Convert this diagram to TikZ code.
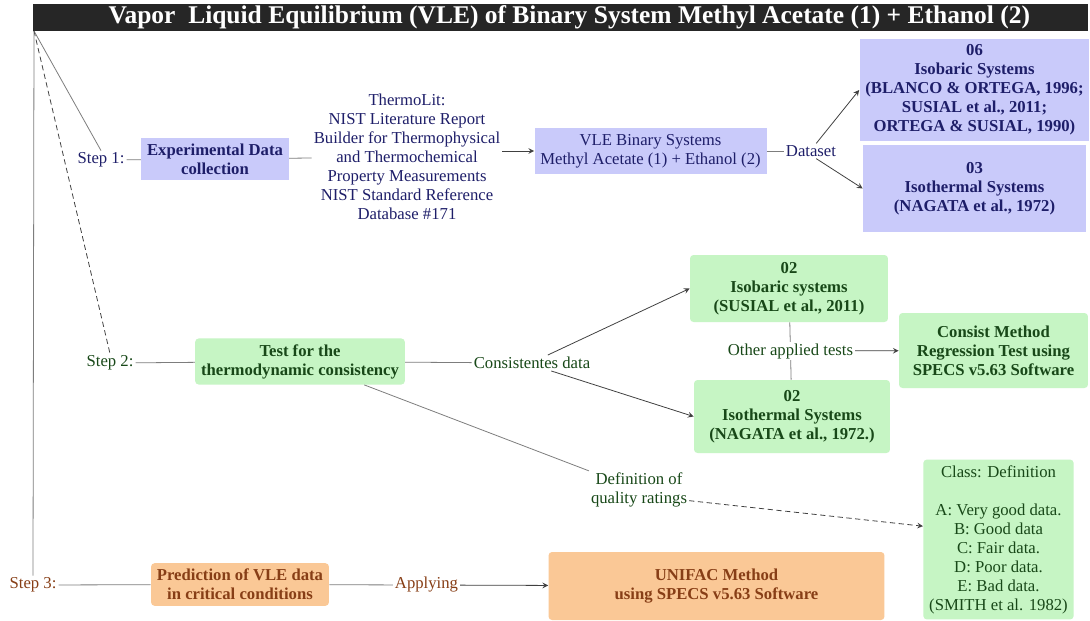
\documentclass[tikz,border=0pt]{standalone}
\usepackage{fontspec}
\setmainfont{Liberation Serif}
\usetikzlibrary{positioning}

\definecolor{vleblue}{RGB}{201,202,250}
\definecolor{vlenavy}{RGB}{30,30,105}
\definecolor{vlegreen}{RGB}{198,245,196}
\definecolor{vledkgreen}{RGB}{24,72,24}
\definecolor{vleorange}{RGB}{250,200,150}
\definecolor{vlebrown}{RGB}{135,62,22}
\definecolor{vlegray}{RGB}{125,125,125}
\definecolor{vletitle}{RGB}{38,38,38}

\begin{document}
\begin{tikzpicture}
[x=0.02cm,y=-0.02cm,
every node/.style={font=\fontsize{9.5}{10.8}\selectfont,align=center},
  link/.style = {draw=vlegray,line width=0.45pt},
  linkarrow/.style = {-stealth,draw=black!75,line width=0.45pt},
  dotlink/.style = {densely dashed,draw=black!75,line width=0.45pt},
  lbl/.style = {inner sep=1pt},
  bfont/.style = {font=\fontsize{9.5}{10.8}\selectfont\bfseries},
  bluebox/.style = {rectangle,fill=vleblue,text=vlenavy},
  greenbox/.style = {rectangle,rounded corners=2pt,fill=vlegreen,text=vledkgreen},
  orangebox/.style = {rectangle,rounded corners=2pt,fill=vleorange,text=vlebrown,bfont}]
%background and fixed size
\path[use as bounding box,fill=white] (0,0) rectangle (1090,620);

\node[fill=vletitle,text=white,minimum width=21.1cm,minimum height=0.54cm,inner sep=0pt,
      font=\fontsize{14.5}{15}\selectfont\bfseries] (title) at (560.5,17)
      {\hspace*{10pt}Vapor~~Liquid Equilibrium (VLE) of Binary System Methyl Acetate (1) + Ethanol (2)};
\coordinate (fan) at (34,31);

% step 1
\node[lbl,text=vlenavy] (s1) at (101,160) {Step 1:};
   \node[bluebox,bfont,minimum width=2.8cm,minimum height=0.7cm] (exp) at (215,159) {Experimental Data\\collection};
   \node[lbl,text=vlenavy] (thermolit) at (407,157) {ThermoLit:\\NIST Literature Report\\Builder for Thermophysical\\and Thermochemical\\Property Measurements\\NIST Standard Reference\\Database \#171};
   \node[bluebox,minimum width=4.5cm,minimum height=0.76cm] (vle) at (650.5,151) {VLE Binary Systems\\Methyl Acetate (1) + Ethanol (2)};
   \node[lbl,text=vlenavy] (dset) at (811,151) {Dataset};
   \node[bluebox,bfont,minimum width=4.46cm,minimum height=1.88cm] (iso06) at (974.5,90) {06\\Isobaric Systems\\(BLANCO \& ORTEGA, 1996;\\SUSIAL et al., 2011;\\ORTEGA \& SUSIAL, 1990)};
   \node[bluebox,bfont,minimum width=4.46cm,minimum height=1.74cm] (iso03) at (974.5,188.5) {03\\Isothermal Systems\\(NAGATA et al., 1972)};

% step 2
\node[lbl,text=vledkgreen] (s2) at (110,363) {Step 2:};
   \node[greenbox,bfont,minimum width=4.12cm,minimum height=0.86cm] (test) at (300,361.5) {Test for the\\thermodynamic consistency};
   \node[lbl,text=vledkgreen] (cons) at (532,363) {Consistentes data};
   \node[greenbox,bfont,minimum width=3.96cm,minimum height=1.34cm] (isob02) at (789,288.5) {02\\Isobaric systems\\(SUSIAL et al., 2011)};
   \node[greenbox,bfont,minimum width=3.92cm,minimum height=1.46cm] (isot02) at (792,416.5) {02\\Isothermal Systems\\(NAGATA et al., 1972.)};
   \node[greenbox,bfont,minimum width=3.78cm,minimum height=1.5cm] (consist) at (993.5,350.5) {Consist Method\\Regression Test using\\SPECS v5.63 Software};
   \node[lbl,text=vledkgreen] (def) at (639,490) {Definition of\\quality ratings};
   \node[greenbox,minimum width=2.86cm,minimum height=3.14cm] (class) at (998.5,539.5) {Class: Definition\\[10.8pt]A: Very good data.\\B: Good data\\C: Fair data.\\D: Poor data.\\E: Bad data.\\(SMITH et al. 1982)};

% step 3
\node[lbl,text=vlebrown] (s3) at (33,585) {Step 3:};
   \node[orangebox,minimum width=3.48cm,minimum height=0.74cm] (pred) at (240,584.5) {Prediction of VLE data\\in critical conditions};
   \node[lbl,text=vlebrown] (apply) at (426.5,585) {Applying};
   \node[orangebox,minimum width=6.72cm,minimum height=1.36cm] (unifac) at (716.5,586) {UNIFAC Method\\using SPECS v5.63 Software};

   \draw[link] (fan) -- (s1.north);
   \draw[dotlink] (fan) -- (s2.north);
   \draw[link] (fan) -- (s3.north);

   \draw[link] (s1) -- (exp);
   \draw[link] (exp) -- (thermolit);
   \draw[linkarrow] (thermolit.east |- vle) -- (vle.west);
   \draw[link] (vle) -- (dset);
   \draw[linkarrow] ([xshift=3pt]dset.north) -- (iso06.west);
   \draw[linkarrow] ([xshift=3pt]dset.south) -- (iso03.west);

   \draw[link] (s2) -- (test);
   \draw[link] (test) -- (cons);
   \draw[linkarrow] ([xshift=9pt]cons.north) -- (isob02.west);
   \draw[linkarrow] ([xshift=11pt]cons.south) -- (isot02.west);
   \path[link] (isob02) edge node [fill=white,text=vledkgreen,inner sep=1pt] (other) {Other applied tests} (isot02);
   \draw[linkarrow] (other) -- (consist);
   \draw[link] (test.-20) -- (def);
   \draw[dotlink,-stealth] (def.-12) -- (class.170);

   \draw[link] (s3) -- (pred);
   \draw[link] (pred) -- (apply);
   \draw[linkarrow] (apply) -- (unifac);
%\draw[link] (s3.north) -- (fan);
\end{tikzpicture}
\end{document}
